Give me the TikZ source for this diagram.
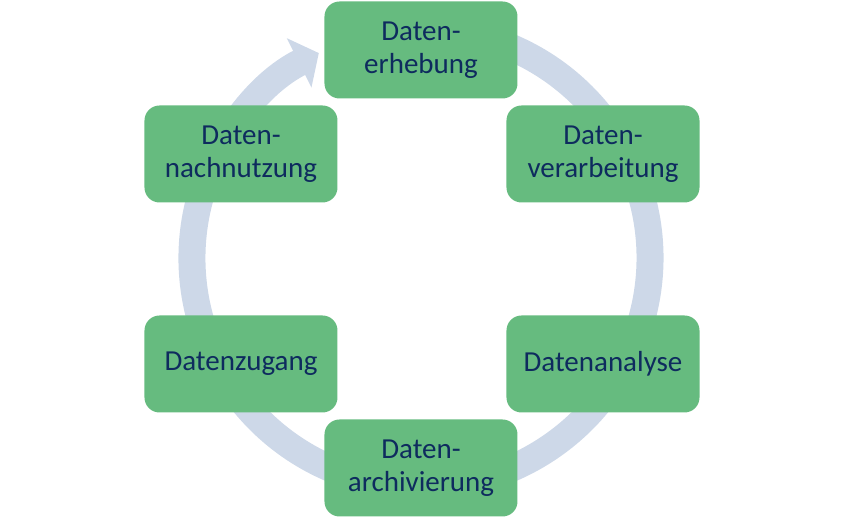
\documentclass[tikz,border=0pt]{standalone}
\usepackage{fontspec}
\setmainfont{Carlito}
\usetikzlibrary{arrows.meta}
\definecolor{boxgreen}{HTML}{66BB7F}
\definecolor{ringblue}{HTML}{CDD8E8}
\definecolor{textnavy}{HTML}{0E2B5E}
\tikzset{stage/.style={fill=boxgreen,rounded corners=15pt,minimum width=193pt,minimum height=97pt,
    inner sep=0pt,align=center,text=textnavy,font=\fontsize{29}{33}\selectfont}}
\begin{document}
\begin{tikzpicture}[x=1pt,y=1pt]
  \useasboundingbox (-421,-260) rectangle (423,258);
  \draw[line width=27pt,color=ringblue,-{Triangle[length=22pt,width=54pt]}]
    (75:229pt) arc[start angle=75,end angle=-243.5,radius=229pt];
  \node[stage] (erhebung) at (0,208) {Daten-\\erhebung};
  \node[stage] (verarbeitung) at (182,104) {Daten-\\verarbeitung};
  \node[stage] (analyse) at (182,-106) {Datenanalyse};
  \node[stage] (archivierung) at (0,-210) {Daten-\\archivierung};
  \node[stage] (zugang) at (-180,-106) {Datenzugang};
  \node[stage] (nachnutzung) at (-180,104) {Daten-\\nachnutzung};
  %\node at (0,0) {};
\end{tikzpicture}
\end{document}
